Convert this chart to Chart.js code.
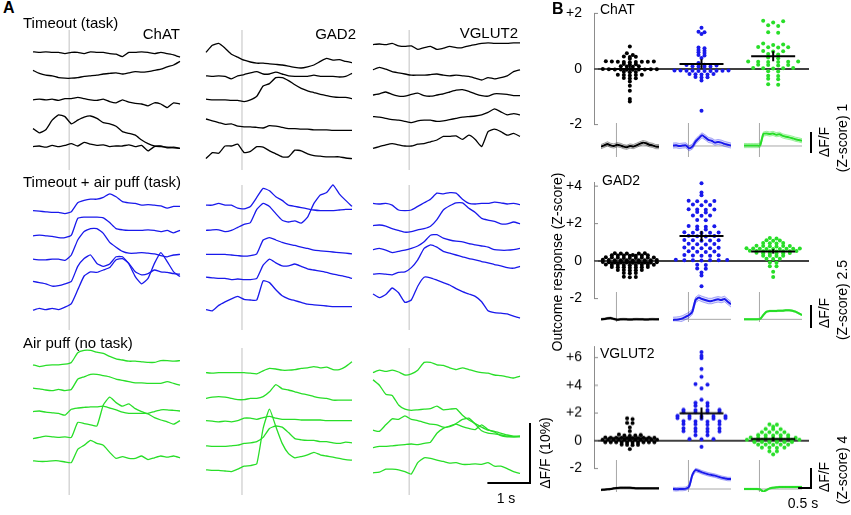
<!DOCTYPE html>
<html>
<head>
<meta charset="utf-8">
<script src="https://cdn.jsdelivr.net/npm/chart.js@4.4.1/dist/chart.umd.min.js"></script>
<style>
  body { margin: 0; background: #fff; width: 851px; height: 515px; overflow: hidden; position: relative;
         font-family: "Liberation Sans", Arial, sans-serif; }
  canvas { position: absolute; }
  .lbl { position: absolute; white-space: nowrap; color: #000; line-height: 1; }
</style>
</head>
<body>
<script>
// ---------- data ----------
// panel A time axis (s, 0 = outcome)
const timeA = [-0.85, -0.7, -0.55, -0.4, -0.25, -0.1, 0.05, 0.2, 0.35, 0.5, 0.65, 0.8, 0.95, 1.1, 1.25, 1.4, 1.55, 1.7, 1.85, 2.0, 2.15, 2.3, 2.45, 2.6];
// panel B inset time axis (s)
const timeB = [-0.6, -0.475, -0.35, -0.225, -0.1, 0.025, 0.15, 0.275, 0.4, 0.525, 0.65, 0.775, 0.9, 1.025, 1.15, 1.275, 1.4, 1.525, 1.65];

const genes = ['ChAT', 'GAD2', 'VGLUT2'];
const conditions = ['Timeout (task)', 'Timeout + air puff (task)', 'Air puff (no task)'];

// example traces, ΔF/F (%) with stacking offset, 5 trials each
const chatTimeout = [
  [19.7,19.6,19.7,19.6,19.6,19.4,19.6,19.6,19.4,19.7,19.6,19.6,19.4,19.3,18.9,19.6,19.6,19.7,19.6,19.4,19.6,19.4,19.2,18.8],
  [16.6,16.1,15.8,15.7,15.4,15.3,15.3,15.4,15.6,15.7,15.8,16.0,16.1,16.2,16.0,16.2,16.4,16.3,16.4,16.6,16.8,17.2,17.5,18.1],
  [11.7,11.8,11.7,11.8,11.6,11.9,11.9,12.1,11.9,11.7,11.6,11.8,11.4,11.2,11.7,11.3,11.1,11.0,10.7,11.2,11.0,10.4,11.2,11.0],
  [6.9,6.2,6.7,8.3,9.2,8.9,7.7,8.3,8.8,9.0,8.6,7.9,7.7,7.3,6.4,6.1,5.8,5.0,4.4,4.0,3.9,3.8,3.7,3.6],
  [3.9,4.0,3.8,4.1,3.9,4.1,4.4,4.0,4.6,4.3,4.1,4.2,3.9,4.0,4.0,4.2,3.9,4.1,3.2,3.9,4.0,3.7,3.8,3.6]
];
const gad2Timeout = [
  [19.6,20.8,21.1,20.3,19.3,18.8,18.3,18.0,17.8,17.8,17.7,17.6,17.5,17.3,17.1,17.0,17.2,17.5,18.1,18.6,18.3,18.4,18.1,17.9],
  [15.7,15.6,15.7,15.6,15.2,15.7,15.9,16.2,16.4,16.0,16.0,16.3,16.0,15.7,15.6,15.6,15.6,15.8,15.6,15.6,15.6,15.5,15.6,16.1],
  [11.8,11.7,11.7,11.7,11.6,11.6,11.4,11.7,12.3,14.0,14.4,15.4,15.4,14.9,14.2,13.6,13.2,12.9,12.6,12.4,12.2,12.1,12.1,11.9],
  [8.5,8.2,7.9,7.6,7.7,7.3,7.2,7.2,7.1,7.0,7.4,7.3,7.1,6.9,6.9,6.8,6.8,6.7,6.7,6.7,6.6,6.6,6.6,6.6],
  [1.9,2.9,2.8,4.0,4.0,4.3,2.9,3.1,3.9,3.8,3.2,2.7,2.2,2.2,3.3,3.2,2.7,2.4,2.3,2.2,2.2,2.2,2.0,1.9]
];
const vglut2Timeout = [
  [20.9,21.0,20.9,21.1,20.7,20.6,20.7,20.1,20.4,20.6,20.1,20.3,20.6,20.4,20.4,20.7,20.9,21.1,21.2,21.1,21.1,21.1,21.2,21.2],
  [16.7,17.1,16.8,16.4,16.2,16.0,15.8,15.8,15.8,15.9,16.0,15.8,15.7,15.8,15.7,15.6,15.3,15.0,15.4,15.2,15.4,15.7,16.4,16.7],
  [12.5,12.7,13.0,12.6,12.3,12.3,12.6,12.8,12.4,12.3,12.5,12.7,13.0,13.3,13.4,13.1,12.7,12.4,12.3,12.7,12.7,12.6,12.4,12.4],
  [8.9,8.8,8.6,8.4,8.3,8.1,7.9,8.2,8.3,8.3,8.1,8.2,8.4,8.6,8.8,8.9,9.0,9.2,9.6,10.2,9.7,9.2,9.4,9.2],
  [3.6,3.9,4.2,4.4,4.2,4.0,4.0,4.3,4.4,4.7,5.0,5.6,5.6,5.7,5.1,5.8,5.1,3.9,6.4,6.8,6.4,5.8,6.1,5.6]
];
const chatPuff = [
  [19.9,19.8,19.7,19.6,19.6,19.4,19.7,21.2,21.6,21.8,21.8,22.1,22.7,22.2,21.4,21.2,21.1,20.8,20.9,20.8,20.7,20.3,20.6,20.6],
  [15.7,15.8,15.7,15.6,15.4,15.4,15.8,18.6,18.8,18.8,18.8,18.7,17.9,16.9,16.7,16.6,16.6,16.6,16.7,16.6,16.4,16.6,16.2,16.6],
  [11.8,11.7,11.7,11.8,11.8,11.6,12.5,15.0,16.4,16.9,16.9,16.1,14.6,13.8,13.1,12.8,12.8,12.9,12.8,12.7,12.4,12.2,12.5,12.6],
  [8.1,7.9,7.7,7.3,7.4,7.7,8.1,10.6,11.9,12.5,11.1,10.6,11.0,12.2,12.2,11.0,8.9,7.7,8.6,11.1,12.9,11.4,9.7,8.9],
  [3.3,3.6,3.4,3.6,3.4,3.8,4.4,6.7,9.0,9.7,9.6,10.0,10.4,11.7,11.9,11.1,9.7,9.2,9.4,10.0,9.7,9.6,9.4,9.3]
];
const gad2Puff = [
  [20.8,20.8,21.1,20.8,20.8,20.3,20.2,20.6,22.1,23.6,23.2,22.2,21.6,20.8,20.6,20.4,20.2,20.0,19.9,19.9,19.9,20.0,20.1,20.1],
  [16.6,16.7,16.7,16.4,16.6,17.1,17.6,17.9,20.1,21.1,20.6,19.4,18.3,18.0,18.2,17.8,18.8,21.1,22.5,22.9,24.2,22.7,21.6,20.6],
  [12.6,12.6,12.6,12.6,12.5,12.4,12.3,12.4,12.7,15.0,15.4,15.0,14.6,14.3,14.1,13.8,13.6,13.3,13.2,13.1,13.0,12.9,12.8,12.7],
  [8.8,8.7,8.6,8.6,8.4,8.5,8.4,8.4,8.6,10.8,11.8,11.2,10.7,10.7,11.0,10.6,10.2,10.0,9.8,9.6,9.3,9.1,8.9,8.6],
  [3.4,3.2,4.1,4.7,5.2,5.6,5.1,5.0,5.0,8.2,7.9,6.7,5.7,5.2,4.9,4.6,4.3,4.2,4.1,4.0,3.9,3.9,3.9,3.9]
];
const vglut2Puff = [
  [21.1,21.0,21.1,20.8,20.0,19.9,20.0,20.6,21.2,21.8,22.8,22.7,22.9,22.8,21.8,21.1,21.0,21.1,21.1,21.3,21.2,21.0,21.1,20.9],
  [17.4,17.5,17.3,16.9,16.6,16.3,16.4,16.7,16.9,17.3,18.4,20.0,20.7,21.2,21.2,20.3,19.6,18.6,18.3,18.1,17.7,17.7,18.0,17.7],
  [13.4,13.6,13.3,12.9,13.1,13.3,13.6,14.0,14.7,15.8,15.9,15.3,15.0,14.8,14.7,14.4,14.2,14.0,13.8,13.4,13.3,13.3,13.4,13.6],
  [9.3,9.4,9.3,9.2,9.6,9.7,10.4,11.7,13.6,14.2,13.8,13.1,12.8,12.5,12.2,11.9,11.7,11.4,11.2,10.9,10.7,10.4,10.3,10.6],
  [6.0,5.4,5.9,7.0,6.2,4.6,5.0,7.3,8.8,8.7,8.3,7.9,7.5,6.9,6.4,6.0,5.6,4.7,3.2,2.9,2.8,2.7,2.3,2.0]
];
const chatNoTask = [
  [21.7,21.4,21.6,21.7,21.7,21.8,22.1,23.7,24.1,24.1,23.8,23.6,23.1,22.7,22.5,22.3,22.3,22.2,22.1,22.1,22.4,22.4,22.3,22.4],
  [17.8,17.7,17.5,17.4,17.6,17.4,17.6,19.3,19.7,20.1,20.1,19.9,19.7,19.3,19.1,18.9,18.7,18.7,18.6,18.6,18.6,18.9,18.6,18.3],
  [13.9,14.0,13.8,13.7,13.6,13.3,14.3,14.5,14.6,14.7,14.7,14.8,14.5,14.2,13.8,13.6,13.6,13.6,13.6,13.9,14.2,14.2,14.1,14.0],
  [9.4,9.6,9.8,9.7,9.6,9.7,9.6,12.1,11.9,11.7,11.5,15.0,16.3,15.4,14.8,15.2,14.4,13.9,13.5,12.9,12.5,12.2,11.8,12.4],
  [5.7,5.6,5.6,5.7,5.7,5.5,5.4,7.6,8.3,9.1,8.6,8.3,7.1,6.1,6.4,6.1,6.1,6.5,5.9,6.2,6.5,6.3,6.5,6.2]
];
const gad2NoTask = [
  [20.4,20.3,20.4,20.4,20.4,20.4,20.4,20.3,20.2,20.7,21.1,21.0,20.8,20.8,20.9,21.1,21.2,21.4,21.2,21.3,20.9,20.9,21.4,22.2],
  [16.1,16.3,16.4,16.3,16.1,15.9,15.9,16.1,16.1,16.4,17.2,18.4,17.7,17.5,17.2,16.9,16.7,16.4,16.2,16.1,15.8,15.8,15.8,15.8],
  [12.4,12.3,12.2,12.3,12.2,12.4,12.8,12.8,12.6,12.9,13.1,12.8,12.6,12.6,12.6,12.5,12.5,12.5,12.5,12.4,12.4,12.4,12.4,12.4],
  [8.2,8.1,8.1,8.1,8.2,8.3,8.6,8.7,8.9,9.6,11.1,11.5,11.3,10.4,9.4,9.2,9.1,9.1,8.9,8.9,8.7,8.6,8.8,8.7],
  [4.2,4.1,4.1,4.0,3.9,4.3,4.8,4.9,5.2,11.1,14.3,11.4,8.6,6.9,6.2,6.4,6.7,7.1,6.7,6.5,6.3,6.1,5.9,5.8]
];
const vglut2NoTask = [
  [20.4,20.8,20.6,20.8,20.5,20.0,20.2,20.8,22.1,22.1,21.7,21.6,21.2,20.9,21.2,20.9,20.6,20.4,20.3,20.0,19.9,19.7,19.5,19.8],
  [19.2,18.3,16.8,16.6,15.0,14.3,14.1,14.2,14.3,14.4,14.8,14.2,14.3,14.4,13.3,12.5,11.9,11.3,10.8,10.6,10.3,10.0,9.8,9.8],
  [10.8,10.6,11.7,12.7,12.6,13.2,12.6,12.4,12.1,11.8,11.7,11.3,11.4,11.9,12.6,12.8,11.8,10.7,10.3,10.2,10.0,9.8,9.7,9.8],
  [7.9,8.1,8.1,8.2,8.3,8.4,8.5,8.4,8.6,8.8,10.3,11.1,11.5,11.8,11.4,11.1,10.9,11.7,10.9,10.5,9.9,9.7,9.7,9.7],
  [3.7,3.8,4.3,4.3,4.2,3.9,3.5,5.4,6.2,6.1,5.8,5.6,5.3,5.4,5.1,5.1,5.2,5.1,5.4,4.8,4.8,4.4,3.9,3.6]
];

// outcome responses (Z-score), one value per neuron: timeout / timeout + puff / puff only
const chatBlack = [0.81,0.57,0.5,0.45,0.43,0.44,0.37,0.27,0.25,0.26,0.28,0.24,0.26,0.27,0.25,0.26,0.18,0.16,0.17,0.1,0.08,0.09,0.1,-0.01,-0.02,-0.03,-0.01,-0.02,0.0,-0.03,-0.02,-0.01,-0.02,-0.1,-0.12,-0.11,-0.21,-0.22,-0.23,-0.21,-0.22,-0.32,-0.34,-0.33,-0.45,-0.6,-0.78,-1.08,-1.17];
const chatBlue = [1.48,1.34,1.32,1.26,0.77,0.75,0.68,0.66,0.6,0.58,0.5,0.49,0.4,0.22,0.15,0.13,0.14,0.09,0.08,0.1,0.09,-0.05,-0.06,-0.07,-0.05,-0.06,-0.07,-0.06,-0.05,-0.07,-0.06,-0.18,-0.2,-0.19,-0.18,-0.2,-0.3,-0.31,-0.29,-0.41,-1.5];
const chatGreen = [1.74,1.72,1.67,1.57,1.55,1.32,1.3,0.92,0.88,0.86,0.79,0.78,0.77,0.78,0.65,0.64,0.63,0.54,0.52,0.41,0.39,0.27,0.26,0.25,0.27,0.26,0.25,0.15,0.13,0.14,0.14,0.04,0.03,0.02,0.03,0.04,-0.08,-0.09,-0.24,-0.25,-0.35,-0.37,-0.55,-0.57];
const gad2Black = [0.42,0.41,0.4,0.42,0.41,0.3,0.31,0.29,0.3,0.32,0.28,0.3,0.31,0.18,0.19,0.17,0.18,0.2,0.16,0.18,0.19,0.17,0.05,0.06,0.04,0.05,0.07,0.03,0.05,0.06,0.04,0.05,-0.07,-0.06,-0.08,-0.07,-0.05,-0.09,-0.07,-0.06,-0.08,-0.07,-0.2,-0.19,-0.21,-0.2,-0.22,-0.18,-0.2,-0.21,-0.19,-0.33,-0.32,-0.34,-0.33,-0.35,-0.31,-0.33,-0.48,-0.47,-0.49,-0.48,-0.5,-0.64,-0.63,-0.65,-0.85,-0.84,-0.86];
const gad2Blue = [4.15,3.66,3.52,3.22,3.18,3.2,3.21,3.0,3.02,2.98,2.76,2.74,2.75,2.77,2.6,2.62,2.43,2.44,2.42,2.18,2.2,1.85,1.86,1.84,1.87,1.69,1.7,1.52,1.5,1.53,1.51,1.54,1.33,1.34,1.32,1.35,1.11,1.1,1.12,1.09,1.13,0.9,0.91,0.89,0.92,0.7,0.71,0.69,0.72,0.68,0.51,0.5,0.52,0.49,0.3,0.31,0.29,0.32,0.28,0.05,0.04,0.06,0.03,0.05,0.07,0.04,-0.2,-0.21,-0.41,-0.4,-0.61,-0.77,-1.34];
const gad2Green = [1.23,1.21,1.1,1.11,1.09,0.96,0.95,0.94,0.96,0.8,0.81,0.79,0.82,0.8,0.78,0.66,0.67,0.65,0.66,0.68,0.64,0.66,0.67,0.65,0.53,0.54,0.52,0.53,0.55,0.51,0.53,0.54,0.42,0.43,0.41,0.42,0.44,0.4,0.28,0.29,0.27,0.28,0.12,0.13,0.11,-0.08,-0.09,-0.28,-0.27,-0.57,-0.85];
const vglut2Black = [1.62,1.56,1.3,1.28,0.96,0.69,0.45,0.43,0.38,0.37,0.39,0.23,0.22,0.21,0.22,0.24,0.2,0.23,0.21,0.22,0.23,0.07,0.08,0.06,0.07,0.08,0.06,0.07,0.05,0.08,0.07,0.06,-0.11,-0.1,-0.12,-0.11,-0.1,-0.12,-0.11,-0.1,-0.12,-0.11,-0.28,-0.27,-0.29,-0.31,-0.6];
const vglut2Blue = [6.4,6.13,5.96,5.18,4.62,4.09,4.05,3.78,2.96,2.74,2.72,2.52,2.5,2.23,2.21,2.22,2.24,2.07,2.06,2.08,2.05,1.79,1.78,1.77,1.8,1.76,1.62,1.63,1.61,1.64,1.6,1.4,1.41,1.39,1.42,1.18,1.19,1.17,1.2,0.89,0.9,0.88,0.91,0.67,0.68,0.66,0.69,0.4,0.41,0.13,0.14,0.12,-0.44];
const vglut2Green = [1.18,1.17,1.02,0.84,0.85,0.83,0.62,0.63,0.61,0.62,0.4,0.41,0.39,0.4,0.42,0.22,0.23,0.21,0.22,0.24,0.2,0.22,0.07,0.08,0.06,0.07,0.08,0.06,0.07,0.05,-0.09,-0.08,-0.1,-0.09,-0.08,-0.1,-0.27,-0.26,-0.28,-0.27,-0.26,-0.49,-0.48,-0.5,-0.49,-0.76,-0.75,-0.98];

// population mean traces (Z-score) for the insets
const chatAvgBlack = [-0.03,0.03,0.1,0.03,0,0.06,0.03,-0.03,-0.06,0,-0.03,0.03,0.1,0.16,0.13,0.06,0.03,-0.03,-0.03];
const chatAvgBlue = [0.02,0.03,0,0.02,0.03,-0.11,-0.03,0.21,0.37,0.51,0.41,0.29,0.25,0.16,0.19,0.16,0.1,0.06,0.02];
const chatAvgGreen = [0.02,0.02,0.02,0.02,0.02,0.03,0.57,0.6,0.57,0.6,0.54,0.56,0.48,0.44,0.41,0.37,0.32,0.29,0.25];
const gad2AvgBlack = [0,0.04,0.11,0.14,0.04,-0.04,0,0.02,0,-0.02,0,0.02,0,0,-0.02,0,0.02,0,0];
const gad2AvgBlue = [-0.07,-0.04,0,0.11,0.29,0.47,0.83,2.1,2.36,2.21,2.1,1.99,1.99,2.1,2.17,2.1,2.21,1.92,1.63];
const gad2AvgGreen = [0,0,0,0,0,0.04,0.47,0.83,0.91,0.91,0.91,0.94,0.94,0.98,0.98,0.94,0.83,0.65,0.47];
const vglut2AvgBlack = [-0.2,-0.13,-0.07,0,0.13,0.2,0.27,0.27,0.27,0.27,0.2,0.13,0.13,0.13,0.13,0.13,0.13,0.13,0.13];
const vglut2AvgBlue = [0,-0.07,0,0,0.07,0.47,2.8,3.8,3.6,3.33,3.13,2.93,2.8,2.67,2.47,2.27,2.13,2.0,2.0];
const vglut2AvgGreen = [0,0,0,0,0,-0.07,-0.53,-0.2,0.13,0.27,0.33,0.4,0.4,0.4,0.4,0.4,0.4,0.4,0.4];
const chatSem = [0.1, 0.12, 0.1];
const gad2Sem = [0.1, 0.3, 0.08];
const vglut2Sem = [0.15, 0.35, 0.15];

const chatTicks = [-2, 0, 2];
const gad2Ticks = [-2, 0, 2, 4];
const vglut2Ticks = [-2, 0, 2, 4, 6];
const insetZBars = [1, 2.5, 4];   // Z-score scale bars
const barA = { sec: 1, pct: 10 }; // panel A scale bar
const barB = { sec: 0.5 };

// ---------- layout ----------
const FONT = '"Liberation Sans", Arial, sans-serif';
const colors = ['#000000', 'rgb(25,25,235)', 'rgb(40,222,40)'];
const bandLines = ['rgba(0,0,0,0.45)', 'rgba(25,25,235,0.45)', 'rgba(40,222,40,0.5)'];
const bandFills = ['rgba(0,0,0,0.12)', 'rgba(25,25,235,0.15)', 'rgba(40,222,40,0.18)'];
const colX = [33, 206, 373], colW = [147, 146, 147];
const rowY = [30, 185, 348], rowH = [140, 145, 147];
const PX_PER_PCT = 6;

function makeChart(x, y, w, h, pad, config) {
  const c = document.createElement('canvas');
  const cw = w + pad.left + pad.right, ch = h + pad.top + pad.bottom;
  c.width = cw; c.height = ch;
  c.style.left = (x - pad.left) + 'px'; c.style.top = (y - pad.top) + 'px';
  c.style.width = cw + 'px'; c.style.height = ch + 'px';
  document.body.appendChild(c);
  const axisW = pad.axis || 0;
  config.options = Object.assign({
    responsive: false, animation: false, events: [],
    layout: { padding: { left: pad.left - axisW, right: pad.right, top: pad.top, bottom: pad.bottom } },
    plugins: { legend: { display: false }, tooltip: { enabled: false } }
  }, config.options);
  return new Chart(c, config);
}

function label(text, x, y, opt) {
  opt = opt || {};
  const d = document.createElement('div');
  d.className = 'lbl';
  d.textContent = text;
  d.style.left = x + 'px'; d.style.top = y + 'px';
  d.style.fontSize = (opt.size || 14) + 'px';
  if (opt.bold) d.style.fontWeight = 'bold';
  const tx = opt.align === 'right' ? '-100%' : opt.align === 'left' ? '0' : '-50%';
  d.style.transform = 'translate(' + tx + ',-50%)' + (opt.rotate ? ' rotate(-90deg)' : '');
  document.body.appendChild(d);
}

// vertical marker at t = 0
const stimLine = (color, width) => ({
  id: 'stim',
  beforeDatasetsDraw(chart) {
    const { ctx, chartArea: a } = chart;
    const x = chart.scales.x.getPixelForValue(0);
    ctx.save(); ctx.strokeStyle = color; ctx.lineWidth = width;
    ctx.beginPath(); ctx.moveTo(x, a.top); ctx.lineTo(x, a.bottom); ctx.stroke(); ctx.restore();
  }
});

const scaleBarA = {
  id: 'barA',
  afterDraw(chart) {
    const { ctx, chartArea: a } = chart, xs = chart.scales.x, ys = chart.scales.y;
    const xr = a.right + 10;
    const xl = xr - (xs.getPixelForValue(barA.sec) - xs.getPixelForValue(0));
    const yb = ys.getPixelForValue(2), yt = ys.getPixelForValue(2 + barA.pct);
    ctx.save(); ctx.strokeStyle = '#000'; ctx.lineWidth = 2;
    ctx.beginPath(); ctx.moveTo(xl, yb); ctx.lineTo(xr, yb); ctx.lineTo(xr, yt); ctx.stroke(); ctx.restore();
  }
};

// ---------- panel A ----------
const panelA = [
  [chatTimeout, gad2Timeout, vglut2Timeout],
  [chatPuff, gad2Puff, vglut2Puff],
  [chatNoTask, gad2NoTask, vglut2NoTask]
];
panelA.forEach((row, r) => row.forEach((traces, c) => {
  const last = r === 2 && c === 2;
  makeChart(colX[c], rowY[r], colW[c], rowH[r],
    { left: 3, right: last ? 40 : 3, top: 6, bottom: last ? 20 : 6 }, {
    type: 'line',
    data: {
      datasets: traces.map(v => ({
        data: v.map((y, i) => ({ x: timeA[i], y: y })),
        borderColor: colors[r], borderWidth: 1.3, pointRadius: 0, tension: 0.15, clip: false
      }))
    },
    options: {
      scales: {
        x: { type: 'linear', display: false, min: timeA[0], max: timeA[timeA.length - 1] },
        y: { display: false, min: 0, max: rowH[r] / PX_PER_PCT }
      }
    },
    plugins: [stimLine('#d6d6d6', 1.5)].concat(last ? [scaleBarA] : [])
  });
}));

// ---------- panel B ----------
const panelB = [
  { values: [chatBlack, chatBlue, chatGreen], avg: [chatAvgBlack, chatAvgBlue, chatAvgGreen], sem: chatSem,
    ticks: chatTicks, yMin: -2, yMax: 2, top: 9.3, h: 120, insetTop: 123, insetH: 34, insetMin: -0.524, insetMax: 1.095, barOff: -4 },
  { values: [gad2Black, gad2Blue, gad2Green], avg: [gad2AvgBlack, gad2AvgBlue, gad2AvgGreen], sem: gad2Sem,
    ticks: gad2Ticks, yMin: -2, yMax: 4.2, top: 177.6, h: 125.7, insetTop: 292, insetH: 30, insetMin: -0.29, insetMax: 2.97, barOff: 6 },
  { values: [vglut2Black, vglut2Blue, vglut2Green], avg: [vglut2AvgBlack, vglut2AvgBlue, vglut2AvgGreen], sem: vglut2Sem,
    ticks: vglut2Ticks, yMin: -2, yMax: 6.8, top: 342.4, h: 130.9, insetTop: 460, insetH: 32, insetMin: -0.6, insetMax: 5.8, barOff: -4 }
];
const B_X = 594, B_W = 215, X_MIN = 0.5, X_MAX = 3.5;
const insetX = [601, 673, 744], INSET_W = 58;
const ROW_PX = 2.2, MAX_HALF = 30, MAX_STEP = 12;

// plotSpread-style layout: values that fall in the same row are spread sideways,
// the fullest row of a group fills the available width
function spread(vals, center, pxX, pxY) {
  const sorted = vals.slice().sort((a, b) => b - a);
  const rows = [];
  sorted.forEach(v => {
    const cur = rows[rows.length - 1];
    if (cur && (cur[0] - v) * pxY <= ROW_PX) cur.push(v); else rows.push([v]);
  });
  const maxN = Math.max.apply(null, rows.map(r => r.length));
  const step = Math.min(MAX_STEP, 2 * MAX_HALF / maxN);
  const out = [];
  rows.forEach(row => {
    const n = row.length;
    row.forEach((v, i) => {
      const slot = i % 2 === 0 ? i / 2 : n - 1 - (i - 1) / 2;
      out.push({ x: center + (slot - (n - 1) / 2) * step / pxX, y: v });
    });
  });
  return out;
}

const meanCI = vals => {
  const n = vals.length, m = vals.reduce((s, v) => s + v, 0) / n;
  const sd = Math.sqrt(vals.reduce((s, v) => s + (v - m) ** 2, 0) / (n - 1));
  return { m: m, ci: 1.96 * sd / Math.sqrt(n) };
};

const panelBDecor = (tickVals, groups) => ({
  id: 'decor',
  beforeDatasetsDraw(chart) {
    const { ctx, chartArea: a } = chart, ys = chart.scales.y;
    const y0 = ys.getPixelForValue(0);
    ctx.save(); ctx.strokeStyle = '#000'; ctx.lineWidth = 1.5;
    ctx.beginPath(); ctx.moveTo(a.left, y0); ctx.lineTo(a.right, y0); ctx.stroke();
    ctx.strokeStyle = '#888'; ctx.lineWidth = 1;
    tickVals.forEach(t => {
      const y = ys.getPixelForValue(t);
      ctx.beginPath(); ctx.moveTo(a.left, y); ctx.lineTo(a.left + 4, y); ctx.stroke();
    });
    ctx.restore();
  },
  afterDatasetsDraw(chart) {
    const { ctx } = chart, xs = chart.scales.x, ys = chart.scales.y;
    ctx.save(); ctx.strokeStyle = '#000'; ctx.lineWidth = 2;
    groups.forEach((vals, g) => {
      const s = meanCI(vals), xc = xs.getPixelForValue(g + 1);
      const ym = ys.getPixelForValue(s.m);
      ctx.beginPath(); ctx.moveTo(xc - 22, ym); ctx.lineTo(xc + 22, ym); ctx.stroke();
      ctx.beginPath(); ctx.moveTo(xc, ys.getPixelForValue(s.m - s.ci)); ctx.lineTo(xc, ys.getPixelForValue(s.m + s.ci)); ctx.stroke();
    });
    ctx.restore();
  }
});

const insetDecor = {
  id: 'insetDecor',
  beforeDatasetsDraw(chart) {
    const { ctx, chartArea: a } = chart;
    const x0 = chart.scales.x.getPixelForValue(0), y0 = chart.scales.y.getPixelForValue(0);
    ctx.save(); ctx.strokeStyle = '#a8a8a8'; ctx.lineWidth = 1;
    ctx.beginPath(); ctx.moveTo(a.left, y0); ctx.lineTo(a.right, y0);
    ctx.moveTo(x0, a.top); ctx.lineTo(x0, a.bottom); ctx.stroke(); ctx.restore();
  }
};

const insetBar = (z, off, withTime) => ({
  id: 'insetBar',
  afterDraw(chart) {
    const { ctx, chartArea: a } = chart, xs = chart.scales.x, ys = chart.scales.y;
    const xr = a.right + 9, yb = a.bottom + off;
    const len = ys.getPixelForValue(0) - ys.getPixelForValue(z);
    ctx.save(); ctx.strokeStyle = '#000'; ctx.lineWidth = 2;
    ctx.beginPath();
    if (withTime) {
      const wpx = xs.getPixelForValue(barB.sec) - xs.getPixelForValue(0);
      ctx.moveTo(xr - wpx, yb); ctx.lineTo(xr, yb);
    } else {
      ctx.moveTo(xr, yb);
    }
    ctx.lineTo(xr, yb - len); ctx.stroke(); ctx.restore();
  }
});

panelB.forEach((p, k) => {
  const pxX = B_W / (X_MAX - X_MIN), pxY = p.h / (p.yMax - p.yMin);
  makeChart(B_X, p.top, B_W, p.h, { left: 40, axis: 40, right: 6, top: 8, bottom: 8 }, {
    type: 'scatter',
    data: {
      datasets: p.values.map((vals, g) => ({
        data: spread(vals, g + 1, pxX, pxY),
        backgroundColor: colors[g], borderWidth: 0, pointRadius: 2, clip: false
      }))
    },
    options: {
      scales: {
        x: { type: 'linear', display: false, min: X_MIN, max: X_MAX },
        y: {
          min: p.yMin, max: p.yMax,
          afterFit: s => { s.width = 40; },
          afterBuildTicks: s => { s.ticks = p.ticks.map(v => ({ value: v })); },
          grid: { display: false },
          border: { display: true, color: '#8c8c8c', width: 1 },
          ticks: { color: '#000', padding: 4, font: { family: FONT, size: 14 },
                   callback: v => (v > 0 ? '+' + v : String(v)) }
        }
      }
    },
    plugins: [panelBDecor(p.ticks, p.values)]
  });

  p.avg.forEach((avg, g) => {
    const sem = p.sem[g];
    const isLast = g === 2;
    makeChart(insetX[g], p.insetTop, INSET_W, p.insetH,
      { left: 2, right: isLast ? 16 : 2, top: 4, bottom: isLast ? 10 : 4 }, {
      type: 'line',
      data: {
        datasets: [
          { data: avg.map((v, i) => ({ x: timeB[i], y: v + sem })), borderColor: bandLines[g], borderWidth: 0.8, pointRadius: 0, fill: false },
          { data: avg.map((v, i) => ({ x: timeB[i], y: v - sem })), borderColor: bandLines[g], borderWidth: 0.8, pointRadius: 0, fill: '-1', backgroundColor: bandFills[g] },
          { data: avg.map((v, i) => ({ x: timeB[i], y: v })), borderColor: colors[g], borderWidth: 2, pointRadius: 0, tension: 0.2 }
        ]
      },
      options: {
        scales: {
          x: { type: 'linear', display: false, min: timeB[0], max: timeB[timeB.length - 1] },
          y: { display: false, min: p.insetMin, max: p.insetMax }
        }
      },
      plugins: [insetDecor].concat(isLast ? [insetBar(insetZBars[k], p.barOff, k === 2)] : [])
    });
  });
});

// ---------- text ----------
label('A', 3, 8, { align: 'left', size: 16, bold: true });
label('B', 552, 9, { align: 'left', size: 16, bold: true });
label(conditions[0], 23, 22, { align: 'left', size: 15 });
label(conditions[1], 23, 181, { align: 'left', size: 15 });
label(conditions[2], 23, 342, { align: 'left', size: 15 });
label(genes[0], 180, 33, { align: 'right', size: 15 });
label(genes[1], 356, 33, { align: 'right', size: 15 });
label(genes[2], 518, 32, { align: 'right', size: 15 });
label('1 s', 506, 498, { size: 14 });
label('ΔF/F (10%)', 545, 453, { size: 14, rotate: true });
label(genes[0], 600, 9, { align: 'left', size: 14 });
label(genes[1], 602, 180, { align: 'left', size: 14 });
label(genes[2], 600, 353, { align: 'left', size: 14 });
label('Outcome response (Z-score)', 557, 262, { size: 14, rotate: true });
label('ΔF/F', 824, 142, { size: 14, rotate: true });
label('(Z-score) 1', 842, 138, { size: 14, rotate: true });
label('ΔF/F', 824, 313, { size: 14, rotate: true });
label('(Z-score) 2.5', 842, 300, { size: 14, rotate: true });
label('ΔF/F', 824, 477, { size: 14, rotate: true });
label('(Z-score) 4', 842, 470, { size: 14, rotate: true });
label('0.5 s', 803, 503, { size: 14 });
</script>
</body>
</html>
